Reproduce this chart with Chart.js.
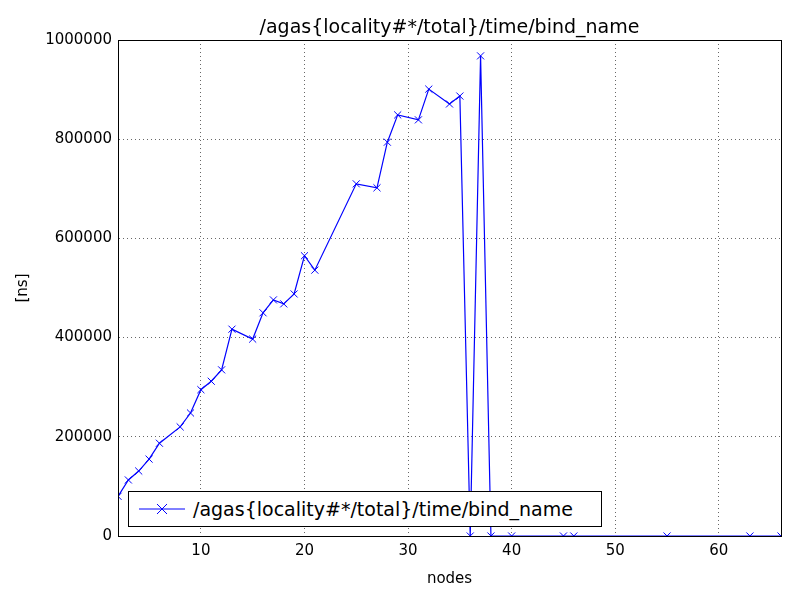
<!DOCTYPE html>
<html><head><meta charset="utf-8">
<script src="https://cdn.jsdelivr.net/npm/chart.js@4/dist/chart.umd.min.js"></script>
<style>
body{margin:0;background:#fff;font-family:"DejaVu Sans",sans-serif}
#wrap{position:relative;width:800px;height:600px}
#title{position:absolute;top:15px;left:118px;width:663px;text-align:center;font-size:19px}
#leg{position:absolute;left:128px;top:491px;width:472px;height:34px;border:1px solid #000;background:#fff;display:flex;align-items:center;font-size:19px}
#leg svg{margin:0 8px 0 10px}
</style></head><body>
<div id="wrap">
<canvas id="c" width="800" height="600"></canvas>
<div id="title">/agas{locality#*/total}/time/bind_name</div>
<div id="leg"><svg width="46" height="16"><line x1="0" y1="8" x2="46" y2="8" stroke="#0000ff"/><path d="M18 3L28 13M28 3L18 13" stroke="#0000ff"/></svg>/agas{locality#*/total}/time/bind_name</div>
</div>
<script>
const nodes=[2,3,4,5,6,8,9,10,11,12,13,15,16,17,18,19,20,21,25,27,28,29,31,32,34,35,36,37,38,40,45,46,55,63,66];
const values=[80000,113000,131000,155000,187000,220000,248000,295000,312000,335000,417000,397000,450000,476000,468000,488000,565000,536000,710000,702000,794000,849000,839000,901000,871000,887000,0,968000,0,0,0,0,0,0,0];
const xTicks=[10,20,30,40,50,60];
const yTicks=[0,200000,400000,600000,800000,1000000];
const data=nodes.map((x,i)=>({x:x,y:values[i]}));
Chart.defaults.font.family='"DejaVu Sans",sans-serif';
Chart.defaults.font.size=15;
Chart.defaults.color='#000';
new Chart(document.getElementById('c'),{
type:'scatter',
data:{datasets:[{data:data,showLine:true,borderColor:'#0000ff',borderWidth:1.2,pointStyle:'crossRot',pointRadius:5,pointBorderColor:'#0000ff',pointBorderWidth:1,backgroundColor:'#0000ff'}]},
options:{responsive:false,animation:false,
layout:{padding:{top:40,right:19,bottom:8,left:0}},
plugins:{legend:{display:false},tooltip:{enabled:false}},
scales:{
x:{type:'linear',min:2,max:66,afterBuildTicks:a=>{a.ticks=xTicks.map(v=>({value:v}))},
 title:{display:true,text:'nodes',font:{size:15},padding:{top:0}},
 grid:{color:'#000',lineWidth:0.6,drawTicks:false},border:{color:'#000',display:true,dash:[1,3]},
 ticks:{padding:6},afterFit:a=>{a.height=56}},
y:{min:0,max:1000000,afterBuildTicks:a=>{a.ticks=yTicks.map(v=>({value:v}))},
 title:{display:true,text:'[ns]',font:{size:15},padding:{bottom:0,top:14}},
 grid:{color:'#000',lineWidth:0.6,drawTicks:false},border:{color:'#000',dash:[1,3]},
 ticks:{padding:6,callback:v=>String(v)},afterFit:a=>{a.width=118}}
}},
plugins:[{id:'frame',afterDraw(c){const a=c.chartArea,x=c.ctx;x.save();x.strokeStyle='#000';x.lineWidth=1;x.strokeRect(a.left+0.5,a.top+0.5,a.right-a.left,a.bottom-a.top);x.restore();}}]
});
</script></body></html>
